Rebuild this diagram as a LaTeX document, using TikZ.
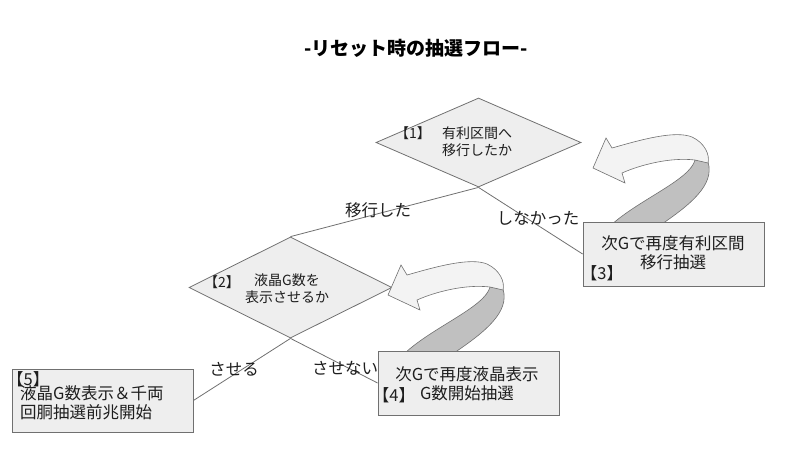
\documentclass[tikz,border=0pt]{standalone}
\usepackage{fontspec}
\setmainfont{Noto Sans CJK JP}
\usetikzlibrary{shapes.geometric}
\definecolor{edgegray}{RGB}{112,112,112}
\definecolor{boxgray}{RGB}{238,238,238}
\definecolor{facegray}{RGB}{243,243,243}
\definecolor{backgray}{RGB}{192,192,192}
\definecolor{inkgray}{RGB}{30,30,30}
\tikzset{
  ask/.style={diamond,draw=edgegray,fill=boxgray,inner sep=0pt,line width=.8pt},
  act/.style={rectangle,draw=edgegray,fill=boxgray,inner sep=0pt,
    minimum width=181pt,minimum height=64pt,line width=.8pt},
  txt/.style={text=inkgray,inner sep=0pt,font=\fontsize{14}{17}\selectfont},
  big/.style={text=inkgray,inner sep=0pt,font=\fontsize{16.5}{19}\selectfont},
  link/.style={draw=edgegray,line width=.8pt},
  turnarrow/.pic={
    % back side of the ribbon
    \filldraw[draw=edgegray,fill=backgray,line width=.6pt]
      (17,58) .. controls (45,32) and (97,12) .. (102,-8) -- (115,-6)
      .. controls (122,17) and (97,37) .. (66,58) -- cycle;
    % front side with the head
    \filldraw[draw=edgegray,fill=facegray,line width=.6pt]
      (19,-20) .. controls (47,-28) and (82,-38) .. (99,-31)
      .. controls (112,-25) and (117,-13) .. (115,-5) -- (102,-8)
      .. controls (77,-11) and (47,-3) .. (29,5) -- (32,15) -- (0,0)
      -- (13,-30) -- cycle;
  }
}
\begin{document}
\begin{tikzpicture}[x=1pt,y=-1pt]
  \useasboundingbox (0,0) rectangle (800,448);
  \node[text=black,inner sep=0pt,font=\bfseries\fontsize{19}{22}\selectfont]
    (title) at (416,48) {-リセット時の抽選フロー-};

  \node[ask,minimum width=205pt,minimum height=89pt] (q1) at (478.5,142.5) {};
  \node[ask,minimum width=203pt,minimum height=101pt] (q2) at (290.5,287.5) {};

  \pic at (593,168) {turnarrow};
  \pic at (388,295) {turnarrow};

  \node[act] (r3) at (673.5,254) {};
  \node[act] (r4) at (468.5,383) {};
  \node[act,minimum height=63pt] (r5) at (102.5,400.5) {};

  \draw[link] (q1.south) -- (q2.north);
  \draw[link] (q1.south) -- (r3.west);
  \draw[link] (q2.south) -- (r5.east);
  \draw[link] (q2.south) -- (r4.west);

  \node[txt] (n1) at (413,133) {【1】};
  \node[txt,align=left] (q1text) at (477,142) {有利区間へ\\移行したか};
  \node[txt] (n2) at (222,282) {【2】};
  \node[txt,align=center] (q2text) at (287,289) {液晶G数を\\表示させるか};

  \node[big,align=center] (r3text) at (673,253) {次Gで再度有利区間\\移行抽選};
  \node[big] (n3) at (602,273) {【3】};
  \node[big,align=center] (r4text) at (467,384) {次Gで再度液晶表示\\G数開始抽選};
  \node[big] (n4) at (394,395) {【4】};
  \node[big,anchor=west] (n5) at (7,379) {【5】};
  \node[big,align=left,anchor=west] (r5text) at (20,403) {液晶G数表示＆千両\\回胴抽選前兆開始};

  \node[big] (yes1) at (378,210) {移行した};
  \node[big] (no1) at (538,218) {しなかった};
  \node[big] (yes2) at (234,369) {させる};
  \node[big] (no2) at (345,368) {させない};
\end{tikzpicture}
\end{document}
